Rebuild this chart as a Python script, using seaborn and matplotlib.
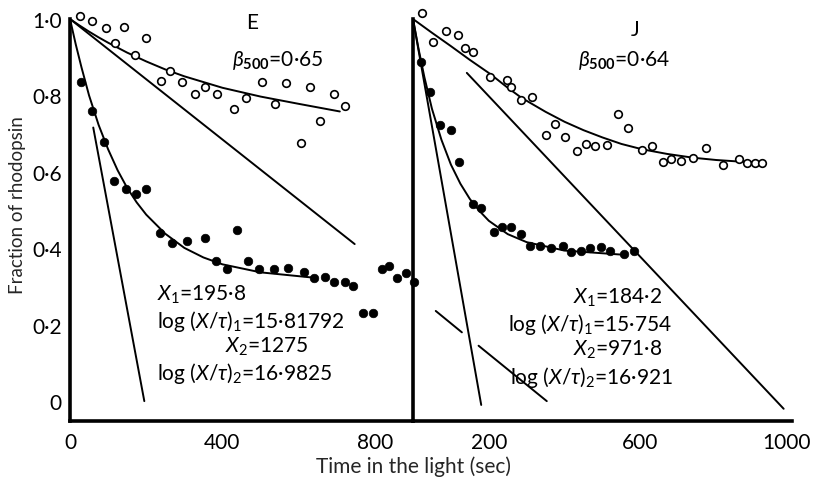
import matplotlib
matplotlib.use("Agg")
import matplotlib.pyplot as plt
import matplotlib.transforms as mtransforms
import seaborn as sns

# ---- panel E (left) ----
e_open_x = [26, 57, 95, 142, 118, 199, 171, 262, 239, 294, 328, 353, 386, 430, 461,
            503, 537, 568, 605, 631, 655, 694, 721]
e_open_y = [1.007, 0.994, 0.976, 0.978, 0.937, 0.949, 0.907, 0.863, 0.837, 0.835, 0.804,
            0.822, 0.805, 0.764, 0.794, 0.835, 0.777, 0.833, 0.676, 0.821, 0.734, 0.803, 0.773]
e_fill_x = [28, 57, 89, 116, 147, 174, 200, 235, 268, 308, 354, 439, 384, 411, 467, 497,
            535, 572, 614, 641, 668, 693, 722, 743, 768, 794, 818, 836, 859, 882, 902]
e_fill_y = [0.834, 0.759, 0.677, 0.576, 0.556, 0.541, 0.554, 0.440, 0.415, 0.419, 0.426,
            0.447, 0.367, 0.346, 0.367, 0.345, 0.346, 0.348, 0.337, 0.323, 0.324, 0.313,
            0.312, 0.300, 0.230, 0.230, 0.347, 0.354, 0.322, 0.335, 0.311]
e_open_fit_x = [0, 25, 50, 75, 100, 150, 200, 250, 300, 400, 500, 600, 708]
e_open_fit_y = [1.0, 0.983, 0.967, 0.952, 0.938, 0.912, 0.889, 0.868, 0.850, 0.820, 0.797,
                0.778, 0.758]
e_fill_fit_x = [0, 15, 30, 50, 75, 100, 125, 150, 175, 200, 250, 300, 350, 400, 500, 640]
e_fill_fit_y = [1.0, 0.934, 0.874, 0.800, 0.723, 0.659, 0.604, 0.558, 0.520, 0.488, 0.438,
                0.401, 0.376, 0.358, 0.337, 0.323]
e_line1_x = [0, 747]
e_line1_y = [1.0, 0.411]
e_line2_x = [61, 195]
e_line2_y = [0.716, 0.0]

# ---- panel J (right) ----
j_open_x = [23, 52, 86, 120, 137, 159, 204, 248, 258, 286, 314, 375, 351, 402, 432, 456,
            481, 511, 542, 568, 605, 631, 660, 682, 707, 739, 774, 818, 859, 882, 902, 920]
j_open_y = [1.016, 0.941, 0.968, 0.959, 0.923, 0.913, 0.848, 0.841, 0.821, 0.789, 0.795,
            0.726, 0.696, 0.690, 0.655, 0.673, 0.667, 0.671, 0.751, 0.714, 0.658, 0.668,
            0.625, 0.634, 0.629, 0.636, 0.663, 0.617, 0.633, 0.622, 0.622, 0.622]
j_fill_x = [20, 45, 72, 100, 122, 157, 180, 213, 236, 258, 286, 309, 336, 364, 396, 416,
            444, 466, 497, 520, 556, 582]
j_fill_y = [0.888, 0.808, 0.723, 0.710, 0.625, 0.517, 0.505, 0.443, 0.456, 0.456, 0.437,
            0.405, 0.405, 0.401, 0.405, 0.389, 0.394, 0.400, 0.404, 0.392, 0.384, 0.394]
j_open_fit_x = [0, 50, 100, 150, 204, 250, 286, 350, 400, 450, 500, 550, 605, 670, 739,
                800, 860, 925]
j_open_fit_y = [1.0, 0.964, 0.929, 0.893, 0.856, 0.820, 0.794, 0.757, 0.731, 0.709, 0.690,
                0.673, 0.659, 0.647, 0.637, 0.631, 0.627, 0.625]
j_fill_fit_x = [0, 15, 30, 50, 75, 100, 125, 150, 175, 200, 250, 300, 400, 556]
j_fill_fit_y = [1.0, 0.920, 0.848, 0.765, 0.684, 0.619, 0.569, 0.529, 0.498, 0.472, 0.437,
                0.416, 0.394, 0.383]
j_line1_x = [0, 180]
j_line1_y = [1.0, -0.01]
j_line2_x = [142, 978]
j_line2_y = [0.859, -0.02]
j_dash_a_x = [60, 129]
j_dash_a_y = [0.236, 0.180]
j_dash_b_x = [173, 353]
j_dash_b_y = [0.145, 0.0]

ytick_vals = [0, 0.2, 0.4, 0.6, 0.8, 1.0]
ytick_text = ['0', '0·2', '0·4', '0·6', '0·8', '1·0']

sns.set_style("white")
plt.rcParams['font.family'] = ['Lato', 'DejaVu Sans']
plt.rcParams['mathtext.fontset'] = 'custom'
plt.rcParams['mathtext.rm'] = 'Lato'
plt.rcParams['mathtext.it'] = 'Lato:italic'
plt.rcParams['mathtext.bf'] = 'Lato:bold'

fig = plt.figure(figsize=(8.13, 4.85), dpi=100)
ax_e = fig.add_axes([70 / 813, 1 - 422 / 485, 343 / 813, 402 / 485])
ax_j = fig.add_axes([413 / 813, 1 - 422 / 485, 379 / 813, 402 / 485])

line_kw = dict(color='black', linewidth=1.4)
open_kw = dict(s=30, color='white', edgecolor='black', linewidth=1.2, clip_on=False, zorder=3)
fill_kw = dict(s=38, color='black', edgecolor='black', linewidth=0.5, clip_on=False, zorder=3)

# panel E
sns.lineplot(x=e_open_fit_x, y=e_open_fit_y, ax=ax_e, **line_kw)
sns.lineplot(x=e_fill_fit_x, y=e_fill_fit_y, ax=ax_e, **line_kw)
sns.lineplot(x=e_line1_x, y=e_line1_y, ax=ax_e, **line_kw)
sns.lineplot(x=e_line2_x, y=e_line2_y, ax=ax_e, **line_kw)
sns.scatterplot(x=e_open_x, y=e_open_y, ax=ax_e, **open_kw)
sns.scatterplot(x=e_fill_x, y=e_fill_y, ax=ax_e, **fill_kw)

# panel J
sns.lineplot(x=j_open_fit_x, y=j_open_fit_y, ax=ax_j, **line_kw)
sns.lineplot(x=j_fill_fit_x, y=j_fill_fit_y, ax=ax_j, **line_kw)
sns.lineplot(x=j_line1_x, y=j_line1_y, ax=ax_j, **line_kw)
sns.lineplot(x=j_line2_x, y=j_line2_y, ax=ax_j, **line_kw)
sns.lineplot(x=j_dash_a_x, y=j_dash_a_y, ax=ax_j, **line_kw)
sns.lineplot(x=j_dash_b_x, y=j_dash_b_y, ax=ax_j, **line_kw)
sns.scatterplot(x=j_open_x, y=j_open_y, ax=ax_j, **open_kw)
sns.scatterplot(x=j_fill_x, y=j_fill_y, ax=ax_j, **fill_kw)

for ax in (ax_e, ax_j):
    ax.set_ylim(-0.052, 1.0)
    ax.set_yticks(ytick_vals)
    for side in ('top', 'right'):
        ax.spines[side].set_visible(False)
    for side in ('left', 'bottom'):
        ax.spines[side].set_linewidth(2.6)
        ax.spines[side].set_color('black')
    ax.tick_params(direction='in', length=9, width=2, colors='black', labelsize=15)
    ax.patch.set_alpha(0)

ax_e.set_xlim(0, 900)
ax_e.set_xticks([0, 200, 400, 600, 800])
ax_e.set_xticklabels(['0', '', '400', '', '800'])
ax_e.set_yticklabels(ytick_text)
ax_e.tick_params(axis='x', pad=8)
ax_e.tick_params(axis='y', pad=6)

ax_j.set_xlim(0, 1000)
ax_j.set_xticks([200, 400, 600, 800, 1000])
ax_j.set_xticklabels(['200', '', '600', '', '1000'])
ax_j.set_yticklabels([])
ax_j.tick_params(axis='x', pad=8)
# keep the last label inside the canvas
last = ax_j.get_xticklabels()[-1]
last.set_transform(last.get_transform() + mtransforms.ScaledTranslation(-5 / 100, 0, fig.dpi_scale_trans))

# annotations
txt = dict(fontsize=15, color='black')
ax_e.text(479, 0.992, 'E', ha='center', va='center', **txt)
ax_e.text(545, 0.893, r'$\beta_{\mathbf{500}}$=0·65', ha='center', va='center', **txt)
ax_e.text(229, 0.280, r'$X_1$=195·8', ha='left', va='center', **txt)
ax_e.text(229, 0.212, r'log $(X/\tau)_1$=15·81792', ha='left', va='center', **txt)
ax_e.text(408, 0.144, r'$X_2$=1275', ha='left', va='center', **txt)
ax_e.text(229, 0.076, r'log $(X/\tau)_2$=16·9825', ha='left', va='center', **txt)

ax_j.text(587, 0.975, 'J', ha='center', va='center', **txt)
ax_j.text(557, 0.893, r'$\beta_{\mathbf{500}}$=0·64', ha='center', va='center', **txt)
ax_j.text(423, 0.272, r'$X_1$=184·2', ha='left', va='center', **txt)
ax_j.text(251, 0.202, r'log $(X/\tau)_1$=15·754', ha='left', va='center', **txt)
ax_j.text(423, 0.136, r'$X_2$=971·8', ha='left', va='center', **txt)
ax_j.text(256, 0.065, r'log $(X/\tau)_2$=16·921', ha='left', va='center', **txt)

fig.text(413 / 813, 1 - 467 / 485, 'Time in the light (sec)', ha='center', va='center', fontsize=15)
fig.text(17 / 813, 1 - 205 / 485, 'Fraction of rhodopsin', ha='center', va='center',
         rotation=90, fontsize=13.5)

fig.savefig('out.png', dpi=100)
